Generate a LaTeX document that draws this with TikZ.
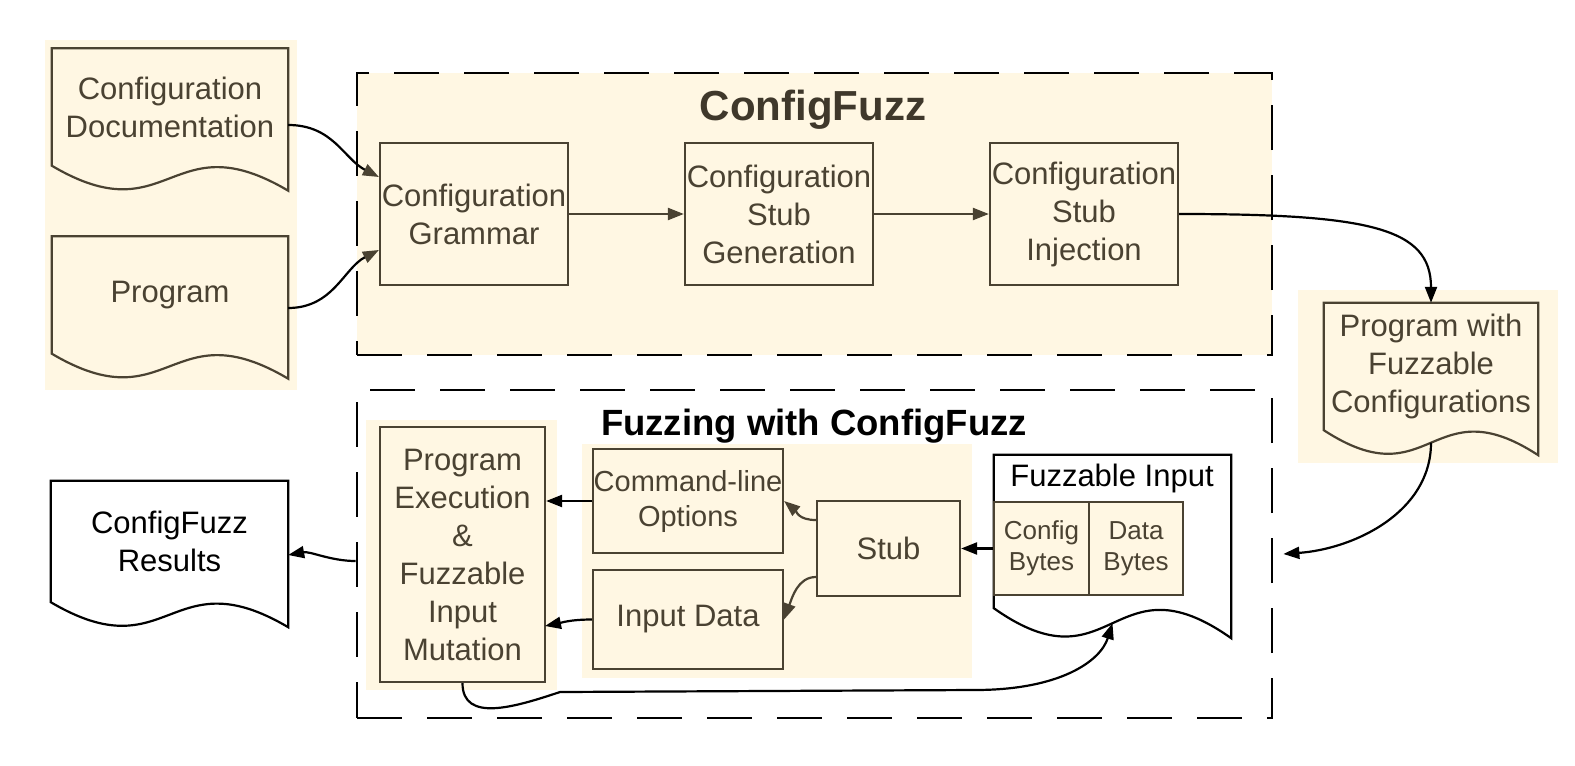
\documentclass[tikz,border=0pt]{standalone}
\usepackage{fontspec}
\setmainfont{Liberation Sans}
\usetikzlibrary{positioning,arrows.meta,calc,backgrounds}
\definecolor{cream}{HTML}{FFF7E3}
\definecolor{umber}{HTML}{4A4232}

% outline of a document shape: #1 style, #2 node, #3 depth of the wavy bottom
\newcommand{\docoutline}[3]{%
  \draw[line width=2.2pt, #1] (#2.south west) -- (#2.north west) -- (#2.north east)
    -- ($(#2.south east)+(0,#3)$)
    .. controls ($(#2.south)+(0,-1.8*#3)$) and ($(#2.south)+(0,2.8*#3)$) .. (#2.south west) -- cycle;}

\begin{document}
\begin{tikzpicture}[x=1pt, y=-1pt,
    every node/.style={font=\fontsize{31pt}{38pt}\selectfont, align=center, inner sep=0pt},
    procBox/.style={draw=umber, line width=2.2pt, fill=cream, text=umber},
    docText/.style={text=umber},
    groupBox/.style={draw=black, line width=2.8pt, dash pattern=on 45pt off 25pt},
    patchFill/.style={fill=cream},
    flowArrow/.style={line width=2.2pt, draw=black, -{Triangle[length=16pt,width=12pt]}},
    innerArrow/.style={line width=2.2pt, draw=umber, -{Triangle[length=16pt,width=12pt]}}
]
    \useasboundingbox (0,0) rectangle (1575,766);

    % Riquadri tratteggiati
    \node[groupBox, fill=cream, minimum width=915pt, minimum height=282pt] (cfgbox) at (814.5,214) {};
    \node[groupBox, minimum width=915pt, minimum height=328pt] (fuzzbox) at (814.5,554) {};
    \node[font=\fontsize{42pt}{50pt}\selectfont\bfseries, text=umber!85!black] (cfgtitle) at (813,110) {ConfigFuzz};
    \node[font=\fontsize{36.5pt}{42pt}\selectfont\bfseries] (fuzztitle) at (814,426) {Fuzzing with ConfigFuzz};

    % Parte superiore
    \node[procBox, minimum width=188pt, minimum height=142pt] (grammar) at (474,214) {Configuration\\Grammar};
    \node[procBox, minimum width=188pt, minimum height=142pt] (stubgen) at (779,214) {Configuration\\Stub\\Generation};
    \node[procBox, minimum width=188pt, minimum height=142pt] (stubinj) at (1084,214) {Configuration\\Stub\\Injection};

    % Documenti
    \node[docText, minimum width=236pt, minimum height=117pt] (configdoc) at (170,107) {Configuration\\Documentation};
    \node[docText, minimum width=236pt, minimum height=117pt] (progdoc) at (170,295) {Program};
    \node[docText, minimum width=214pt, minimum height=127pt] (progcfg) at (1431,366.5) {Program with\\Fuzzable\\Configurations};
    \node[minimum width=237pt, minimum height=121pt] (results) at (169.5,541.5) {ConfigFuzz\\Results};
    \node[minimum width=237pt, minimum height=153pt] (fuzzin) at (1112.5,531.5) {};
    \node (fuzzintitle) at (1112,478) {Fuzzable Input};

    % Parte inferiore
    \node[procBox, minimum width=165pt, minimum height=255pt] (progexec) at (462.5,554.5) {Program\\Execution\\\&\\Fuzzable\\Input\\Mutation};
    \node[procBox, font=\fontsize{29pt}{35pt}\selectfont, minimum width=190pt, minimum height=104pt] (cmdopt) at (688,501) {Command-line\\Options};
    \node[procBox, minimum width=190pt, minimum height=99pt] (inputdata) at (688,619.5) {Input Data};
    \node[procBox, minimum width=143pt, minimum height=95pt] (stub) at (888.5,548.5) {Stub};
    \node[procBox, font=\fontsize{26pt}{31pt}\selectfont, minimum width=95pt, minimum height=93pt] (cfgbytes) at (1041.5,548.5) {Config\\Bytes};
    \node[procBox, font=\fontsize{26pt}{31pt}\selectfont, minimum width=94pt, minimum height=93pt] (databytes) at (1136,548.5) {Data\\Bytes};
    \coordinate (execin) at (545,626);

    % Sfondi e contorni dei documenti
    \begin{scope}[on background layer]
        \fill[patchFill] (45,40) rectangle (297,390);
        \fill[patchFill] (1298,290) rectangle (1558,463);
        \fill[patchFill] (366,420) rectangle (557,690);
        \fill[patchFill] (582,444) rectangle (972,678);
        \docoutline{draw=umber, fill=cream}{configdoc}{25}
        \docoutline{draw=umber, fill=cream}{progdoc}{25}
        \docoutline{draw=umber, fill=cream}{progcfg}{25}
        \docoutline{draw=black, fill=white}{results}{25}
        \docoutline{draw=black, fill=white}{fuzzin}{30}
    \end{scope}

    % Collegamenti
    \draw[flowArrow, -{Triangle[length=16pt,width=12pt,color=umber]}] ([yshift=-18pt]configdoc.east) .. controls +(45,0) and +(-35,-18) .. ([yshift=37pt]grammar.west);
    \draw[flowArrow, -{Triangle[length=16pt,width=12pt,color=umber]}] ([yshift=-13pt]progdoc.east) .. controls +(45,0) and +(-35,18) .. ([yshift=-36pt]grammar.west);
    \draw[innerArrow] (grammar) -- (stubgen);
    \draw[innerArrow] (stubgen) -- (stubinj);
    \draw[flowArrow] (stubinj.east) .. controls +(190,0) and +(0,-75) .. (progcfg.north);
    \draw[flowArrow] ([yshift=-12.5pt]progcfg.south) .. controls +(0,70) and +(70,-5) .. ([xshift=10pt]fuzzbox.east);
    \draw[flowArrow] (cfgbytes.west) -- (stub.east);
    \draw[innerArrow] ([yshift=28.5pt]stub.west) .. controls +(-18,0) and +(12,10) .. (cmdopt.east);
    \draw[innerArrow] ([yshift=-28.5pt]stub.west) .. controls +(-18,0) and +(8,-22) .. (inputdata.east);
    \draw[flowArrow] (cmdopt.west) -- (cmdopt.west -| progexec.east);
    \draw[flowArrow] (inputdata.west) .. controls +(-22,0) and +(15,-3) .. (execin);
    \draw[flowArrow] ([yshift=-7pt]fuzzbox.west) .. controls +(-25,0) and +(22,-4) .. ([yshift=-13.5pt]results.east);
    \draw[flowArrow] (progexec.south) .. controls +(0,40) and +(-45,15) .. (560,692) -- (975,690)
        .. controls +(85,0) and +(-12,38) .. ([yshift=-15pt]fuzzin.south);
\end{tikzpicture}
\end{document}
